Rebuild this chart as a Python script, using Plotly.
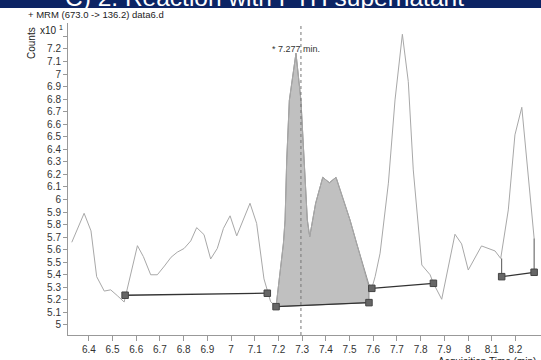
import plotly.graph_objects as go

# chromatogram (retention time min, counts x10^1)
times = [6.328, 6.380, 6.409, 6.433, 6.465, 6.492, 6.520, 6.549, 6.605, 6.630,
         6.661, 6.689, 6.719, 6.747, 6.773, 6.802, 6.830, 6.855, 6.886, 6.914,
         6.942, 6.968, 6.996, 7.024, 7.080, 7.108, 7.139, 7.167, 7.190, 7.221,
         7.228, 7.235, 7.246, 7.274, 7.295, 7.322, 7.332, 7.357, 7.387, 7.415,
         7.443, 7.471, 7.502, 7.530, 7.558, 7.579, 7.594, 7.608, 7.629, 7.664,
         7.692, 7.723, 7.748, 7.769, 7.805, 7.840, 7.854, 7.889, 7.945, 7.973,
         8.001, 8.057, 8.114, 8.138, 8.170, 8.198, 8.227, 8.255, 8.279]
counts = [5.659, 5.890, 5.750, 5.385, 5.270, 5.280, 5.234, 5.183, 5.632, 5.545,
          5.400, 5.400, 5.470, 5.540, 5.580, 5.610, 5.670, 5.776, 5.720, 5.526,
          5.610, 5.770, 5.870, 5.710, 5.970, 5.810, 5.367, 5.186, 5.146, 5.651,
          5.837, 6.315, 6.790, 7.166, 6.790, 5.837, 5.704, 5.970, 6.177, 6.134,
          6.177, 6.023, 5.837, 5.651, 5.465, 5.319, 5.292, 5.385, 5.572, 6.130,
          6.794, 7.317, 6.940, 6.236, 5.478, 5.400, 5.332, 5.205, 5.723, 5.646,
          5.438, 5.630, 5.590, 5.530, 5.917, 6.515, 6.735, 6.156, 5.690]

# integration baselines (start t, start y, end t, end y)
base_t0 = [6.553, 7.190, 7.594, 8.142]
base_y0 = [5.237, 5.146, 5.292, 5.385]
base_t1 = [7.153, 7.582, 7.854, 8.279]
base_y1 = [5.253, 5.178, 5.332, 5.420]

# integrated peak
peak_start, peak_end = 7.190, 7.582
peak_rt = 7.277
rt_marker = 7.295

y_ticks = [round(5.0 + 0.1 * i, 1) for i in range(24)]
y_labels = [("%g" % v) if v <= 7.2 else " " for v in y_ticks]
x_ticks = [round(6.4 + 0.1 * i, 1) for i in range(19)]
x_labels = ["%g" % v for v in x_ticks]

FONT = "Liberation Sans, Arial"

fig = go.Figure()

# filled integrated area
fx = [t for t in times if peak_start <= t <= peak_end - 0.001]
fy = [c for t, c in zip(times, counts) if peak_start <= t <= peak_end - 0.001]
fx = fx + [peak_end, peak_end, peak_start]
fy = fy + [counts[times.index(7.579)], base_y1[1], base_y0[1]]
fig.add_trace(go.Scatter(x=fx, y=fy, fill="toself", fillcolor="#c0c0c0",
                         mode="lines", line=dict(color="#8a8a8a", width=1),
                         hoverinfo="skip", showlegend=False))

# chromatogram line
fig.add_trace(go.Scatter(x=times, y=counts, mode="lines",
                         line=dict(color="#a8a8a8", width=1), showlegend=False))

# drop lines for last peak
i0 = times.index(8.138)
fig.add_trace(go.Scatter(x=[base_t0[3], base_t0[3], None, base_t1[3], base_t1[3]],
                         y=[counts[i0], base_y0[3], None, counts[-1], base_y1[3]],
                         mode="lines", line=dict(color="#555555", width=1),
                         showlegend=False))

# baselines
bx, by = [], []
for a, b, c, d in zip(base_t0, base_y0, base_t1, base_y1):
    bx += [a, c, None]
    by += [b, d, None]
fig.add_trace(go.Scatter(x=bx, y=by, mode="lines",
                         line=dict(color="#333333", width=1.3), showlegend=False))
fig.add_trace(go.Scatter(x=base_t0 + base_t1, y=base_y0 + base_y1, mode="markers",
                         marker=dict(symbol="square", size=6.5, color="#666666",
                                     line=dict(color="#444444", width=1)),
                         showlegend=False))

# RT dotted line
fig.add_shape(type="line", x0=rt_marker, x1=rt_marker, y0=4.92, y1=7.407,
              xref="x", yref="y", line=dict(color="#777777", width=1, dash="dot"))

fig.add_annotation(x=peak_rt, y=7.2, text="* %.3f min." % peak_rt, showarrow=False,
                   xanchor="left", yanchor="middle", xshift=-27,
                   font=dict(size=9, color="#333333", family=FONT))

# header banner (cropped slide title)
fig.add_shape(type="rect", xref="paper", yref="paper",
              x0=-68 / 473, x1=1.0, y0=1 + 15 / 312, y1=1 + 23 / 312 + 0.01,
              fillcolor="#0c2464", line=dict(width=0), layer="above")
fig.add_annotation(xref="paper", yref="paper", x=-5 / 473, y=1 + 15 / 312,
                   xanchor="left", yanchor="middle", yshift=10,
                   text="C) 2. Reaction with PTH supernatant", showarrow=False,
                   font=dict(size=24.5, color="white", family=FONT))
# white strip hiding the part of the title below the banner
fig.add_annotation(xref="paper", yref="paper", x=-68 / 473, y=1 + 15 / 312,
                   xanchor="left", yanchor="top", text=" ", showarrow=False,
                   width=541, height=6, bgcolor="white", borderpad=0,
                   font=dict(size=4))

fig.add_annotation(xref="paper", yref="paper", x=-42 / 473, y=1 + 9 / 312,
                   xanchor="left", yanchor="middle",
                   text="+ MRM (673.0 -> 136.2) data6.d", showarrow=False,
                   font=dict(size=9.5, color="#222222", family=FONT))
fig.add_annotation(xref="paper", yref="paper", x=-37 / 473, y=1 - 20 / 312,
                   xanchor="center", yanchor="middle", textangle=-90,
                   text="Counts", showarrow=False,
                   font=dict(size=10, color="#222222", family=FONT))
fig.add_annotation(xref="paper", yref="paper", x=-30 / 473, y=1 - 7 / 312,
                   xanchor="left", yanchor="middle",
                   text="x10 <sup>1</sup>", showarrow=False,
                   font=dict(size=10, color="#222222", family=FONT))
fig.add_annotation(xref="paper", yref="paper", x=1 - 3 / 473, y=-26 / 312,
                   xanchor="right", yanchor="middle",
                   text="Acquisition Time (min)", showarrow=False,
                   font=dict(size=10, color="#222222", family=FONT))

fig.update_layout(
    width=541, height=360,
    margin=dict(l=68, r=0, t=23, b=25),
    plot_bgcolor="white", paper_bgcolor="white",
    showlegend=False,
    font=dict(family=FONT, size=10, color="#333333"),
)
fig.update_xaxes(range=[6.312, 8.308], tickvals=x_ticks, ticktext=x_labels,
                 showgrid=False, zeroline=False, showline=True, linecolor="#999999",
                 ticks="outside", ticklen=5, tickcolor="#999999",
                 tickfont=dict(size=10, color="#333333"))
fig.update_yaxes(range=[4.92, 7.407], tickvals=y_ticks, ticktext=y_labels,
                 showgrid=False, zeroline=False, showline=True, linecolor="#999999",
                 ticks="outside", ticklen=4, tickcolor="#999999",
                 tickfont=dict(size=10, color="#333333"))

fig.write_html("out.html")
